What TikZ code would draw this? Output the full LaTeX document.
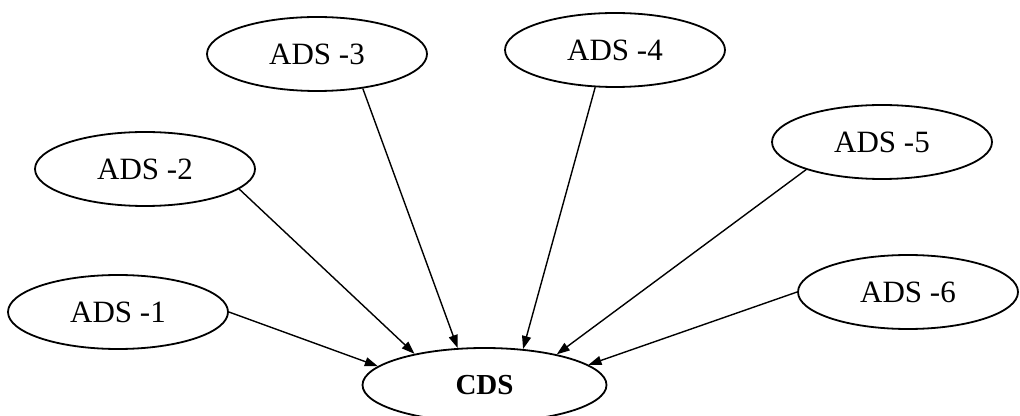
\documentclass[tikz,border=0pt]{standalone}
\usepackage{fontspec}
\setmainfont{Liberation Serif}
\usetikzlibrary{shapes.geometric,arrows.meta}

\begin{document}
\begin{tikzpicture}[x=0.5pt,y=-0.5pt,
  ads/.style={draw, ellipse, line width=0.9pt, inner sep=0pt,
              minimum width=110pt, minimum height=37pt, font=\fontsize{15.5}{18}\selectfont},
  hub/.style={ads, minimum width=122pt, font=\fontsize{14.5}{17}\selectfont\bfseries},
  feed/.style={line width=0.7pt, -{Triangle[length=6.5pt,width=4.5pt]}}]
  \useasboundingbox (0,0) rectangle (1020,416);

  % data sources and the central store
  \node[ads] (a1) at (118,312) {ADS -1};
  \node[ads] (a2) at (145,169) {ADS -2};
  \node[ads] (a3) at (317,54)  {ADS -3};
  \node[ads] (a4) at (615,50)  {ADS -4};
  \node[ads] (a5) at (882,142) {ADS -5};
  \node[ads] (a6) at (908,292) {ADS -6};
  \node[hub] (cds) at (484.5,385) {CDS};

  % every source feeds the central store
  \draw[feed] (a1.0)      -- (cds.170.8);
  \draw[feed] (a2.-12)    -- (cds.156.4);
  \draw[feed] (a3.-37.3)  -- (cds.126.6);
  \draw[feed] (a4.-118.4) -- (cds.43.9);
  \draw[feed] (a5.-160.5) -- (cds.23);
  \draw[feed] (a6.180)    -- (cds.11.3);
\end{tikzpicture}
\end{document}
